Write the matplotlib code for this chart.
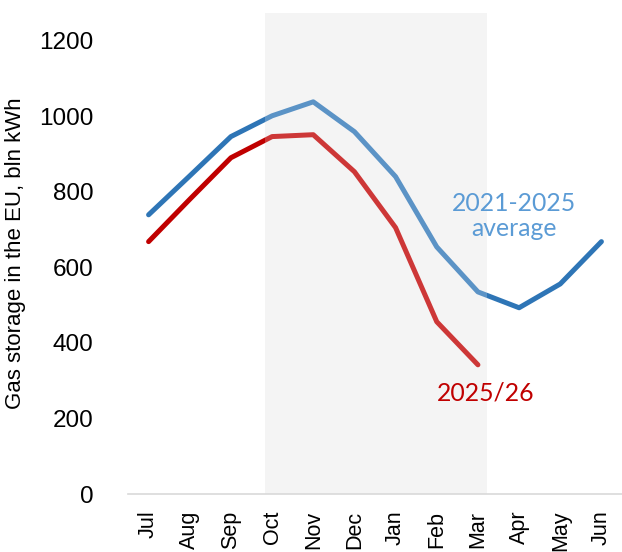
import numpy as np
import matplotlib
matplotlib.use("Agg")
import matplotlib.pyplot as plt

# months of the storage year
months = ["Jul", "Aug", "Sep", "Oct", "Nov", "Dec", "Jan", "Feb", "Mar", "Apr", "May", "Jun"]

# 2021-2025 average, bln kWh
avg_2125 = [739, 842, 946, 1001, 1038, 959, 840, 654, 535, 493, 556, 668]

# 2025/26 season (up to March)
season_2526 = [668, 780, 890, 946, 951, 853, 705, 456, 342]

blue = "#2E75B6"
red = "#C00000"

plt.rcParams["font.family"] = ["Liberation Sans", "DejaVu Sans"]

fig = plt.figure(figsize=(6.22, 5.52), dpi=100)
ax = fig.add_axes([0.2058, 0.105, 0.7942, 0.8714])

x = np.arange(len(months))

# winter shading Oct-Mar
ax.axvspan(3 - 0.18, 8 + 0.22, color="#f2f2f2", zorder=0, lw=0)

ax.plot(x, avg_2125, color=blue, lw=3.6, solid_capstyle="round", zorder=2)
ax.plot(x[:len(season_2526)], season_2526, color=red, lw=3.6,
        solid_capstyle="round", zorder=2)

# lighten the lines inside the shaded period
ax.axvspan(3 - 0.18, 8 + 0.22, color="white", alpha=0.22, zorder=3, lw=0)

ax.text(8.88, 737, "2021-2025\naverage", color="#5B9BD5", fontsize=17.8,
        ha="center", va="center", linespacing=1.1, family=["Lato", "DejaVu Sans"])
ax.text(8.2, 267, "2025/26", color=red, fontsize=17.8,
        ha="center", va="center", family=["Lato", "DejaVu Sans"])

ax.set_xlim(-0.5, 11.5)
ax.set_ylim(0, 1273)
ax.set_yticks(np.arange(0, 1201, 200))
ax.set_xticks(x)
ax.set_xticklabels(months, rotation=90, fontsize=15.5)
ax.tick_params(axis="y", labelsize=17.5, length=0, pad=25)
ax.tick_params(axis="x", length=0, pad=12)
ax.set_ylabel("Gas storage in the EU, bln kWh", fontsize=16, labelpad=9)

for s in ["top", "right", "left"]:
    ax.spines[s].set_visible(False)
ax.spines["bottom"].set_color("#d9d9d9")
ax.spines["bottom"].set_linewidth(1.2)
ax.spines["bottom"].set_zorder(4)

fig.savefig("out.png", dpi=100)
